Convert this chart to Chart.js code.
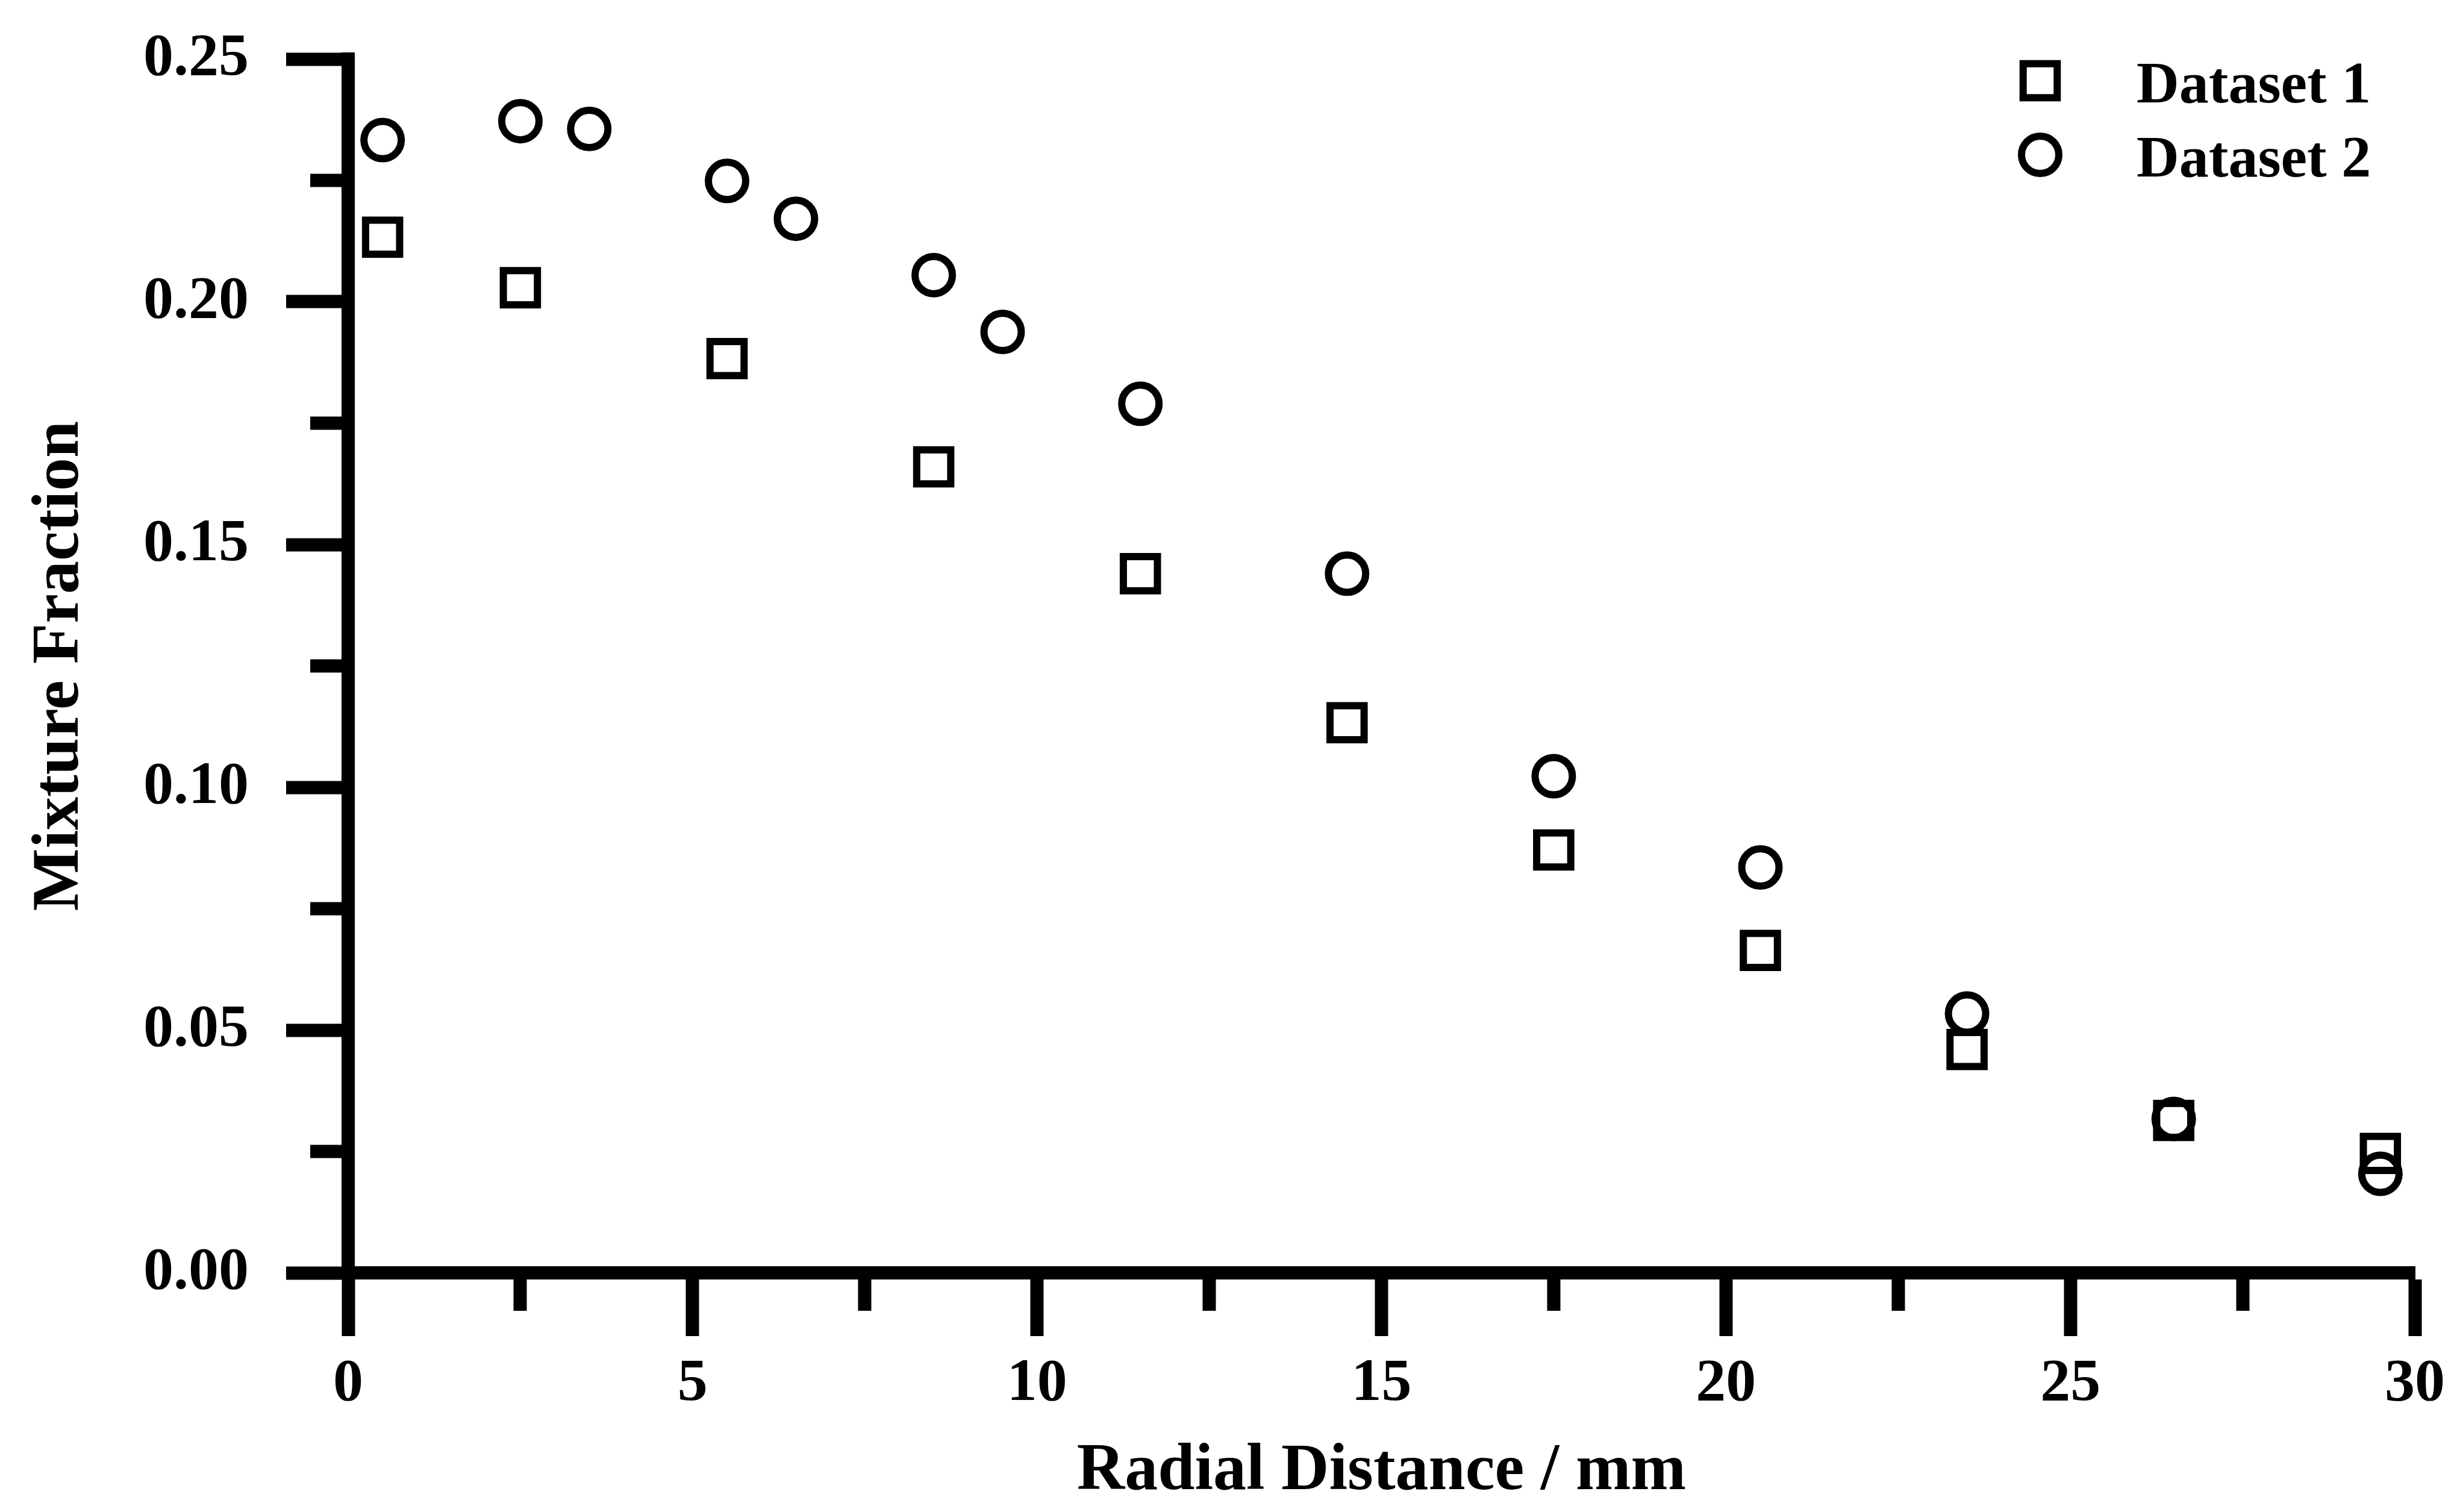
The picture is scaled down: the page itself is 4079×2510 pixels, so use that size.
<!DOCTYPE html>
<html>
<head>
<meta charset="utf-8">
<title>Mixture Fraction vs Radial Distance</title>
<script src="https://cdn.jsdelivr.net/npm/chart.js@4.4.1/dist/chart.umd.min.js"></script>
<style>
  html, body { margin: 0; padding: 0; background: #fff; }
</style>
</head>
<body>
<canvas id="chart" width="4079" height="2510"></canvas>
<script>
// Values (radial distance in mm, mixture fraction)
const xSet1 = [0.5, 2.5, 5.5, 8.5, 11.5, 14.5, 17.5, 20.5, 23.5, 26.5, 29.5];
const ySet1 = [0.2133, 0.2029, 0.1883, 0.1660, 0.1440, 0.1133, 0.0871, 0.0664, 0.0460, 0.0314, 0.0246];
const xSet2 = [0.5, 2.5, 3.5, 5.5, 6.5, 8.5, 9.5, 11.5, 14.5, 17.5, 20.5, 23.5, 26.5, 29.5];
const ySet2 = [0.2333, 0.2372, 0.2356, 0.2249, 0.2171, 0.2055, 0.1938, 0.1790, 0.1440, 0.1023, 0.0835, 0.0534, 0.0317, 0.0204];
const seriesLabels = ['Dataset 1', 'Dataset 2'];
const xTitle = 'Radial Distance / mm';
const yTitle = 'Mixture Fraction';
const xRange = [0, 30];
const yRange = [0, 0.25];
const xStep = 2.5;   // minor step, labels every 5
const yStep = 0.025; // minor step, labels every 0.05

const FONT = '"Liberation Serif", "Times New Roman", serif';
const INK = '#000';

const isMajor = (v, step) => Math.abs(Math.round(v / step) * step - v) < 1e-6;

// Legend drawn in the top right corner of the plot
const cornerLegend = {
  id: 'cornerLegend',
  afterDatasetsDraw(chart) {
    const { ctx, chartArea } = chart;
    ctx.save();
    chart.data.datasets.forEach((ds, i) => {
      const mx = chartArea.right - 622;
      const my = chartArea.top + 36 + i * 123;
      ctx.strokeStyle = INK;
      ctx.fillStyle = 'rgba(0,0,0,0)';
      ctx.lineWidth = ds.pointBorderWidth;
      Chart.helpers.drawPoint(ctx, {
        pointStyle: ds.pointStyle,
        radius: ds.pointRadius,
        borderWidth: ds.pointBorderWidth,
        rotation: 0
      }, mx, my);
      ctx.fillStyle = INK;
      ctx.font = 'bold 98px ' + FONT;
      ctx.textBaseline = 'alphabetic';
      ctx.textAlign = 'left';
      ctx.fillText(ds.label, mx + 160, my + 36);
    });
    ctx.restore();
  }
};

const ctx = document.getElementById('chart');
new Chart(ctx, {
  type: 'scatter',
  data: {
    datasets: [
      {
        label: seriesLabels[0],
        data: xSet1.map((x, i) => ({ x: x, y: ySet1[i] })),
        pointStyle: 'rect',
        pointRadius: 40,
        pointBorderWidth: 12,
        borderColor: INK,
        backgroundColor: 'rgba(0,0,0,0)'
      },
      {
        label: seriesLabels[1],
        data: xSet2.map((x, i) => ({ x: x, y: ySet2[i] })),
        pointStyle: 'circle',
        pointRadius: 31,
        pointBorderWidth: 12,
        borderColor: INK,
        backgroundColor: 'rgba(0,0,0,0)'
      }
    ]
  },
  options: {
    responsive: false,
    devicePixelRatio: 1,
    animation: false,
    layout: { padding: { left: 35, right: 62, top: 98, bottom: 0 } },
    plugins: {
      legend: { display: false },
      tooltip: { enabled: false }
    },
    scales: {
      x: {
        type: 'linear',
        position: 'bottom',
        min: xRange[0],
        max: xRange[1],
        border: { display: true, color: INK, width: 22 },
        grid: {
          drawOnChartArea: false,
          drawTicks: true,
          tickLength: 105,
          tickWidth: 22,
          tickColor: INK,
          tickBorderDash: (c) => isMajor(c.tick.value, 5) ? [] : [52, 400]
        },
        ticks: {
          stepSize: xStep,
          autoSkip: false,
          maxRotation: 0,
          padding: 20,
          color: INK,
          font: { family: FONT, size: 100, weight: 'bold' },
          callback: (v) => isMajor(v, 5) ? String(Math.round(v)) : ''
        },
        title: {
          display: true,
          text: xTitle,
          color: INK,
          font: { family: FONT, size: 110, weight: 'bold' },
          padding: { top: 0, bottom: 0 }
        }
      },
      y: {
        type: 'linear',
        position: 'left',
        min: yRange[0],
        max: yRange[1],
        border: { display: true, color: INK, width: 22 },
        grid: {
          drawOnChartArea: false,
          drawTicks: true,
          // long tick slot, only the part next to the axis is inked
          tickLength: 145,
          tickWidth: 22,
          tickColor: INK,
          tickBorderDash: (c) => isMajor(c.tick.value, 0.05) ? [92, 400] : [52, 440],
          tickBorderDashOffset: (c) => isMajor(c.tick.value, 0.05) ? 450 : 410
        },
        ticks: {
          stepSize: yStep,
          autoSkip: false,
          padding: 20,
          color: INK,
          font: { family: FONT, size: 100, weight: 'bold' },
          callback: (v) => isMajor(v, 0.05) ? v.toFixed(2) : ''
        },
        title: {
          display: true,
          text: yTitle,
          color: INK,
          font: { family: FONT, size: 110, weight: 'bold' },
          padding: { top: 0, bottom: 51 }
        }
      }
    }
  },
  plugins: [cornerLegend]
});
</script>
</body>
</html>
